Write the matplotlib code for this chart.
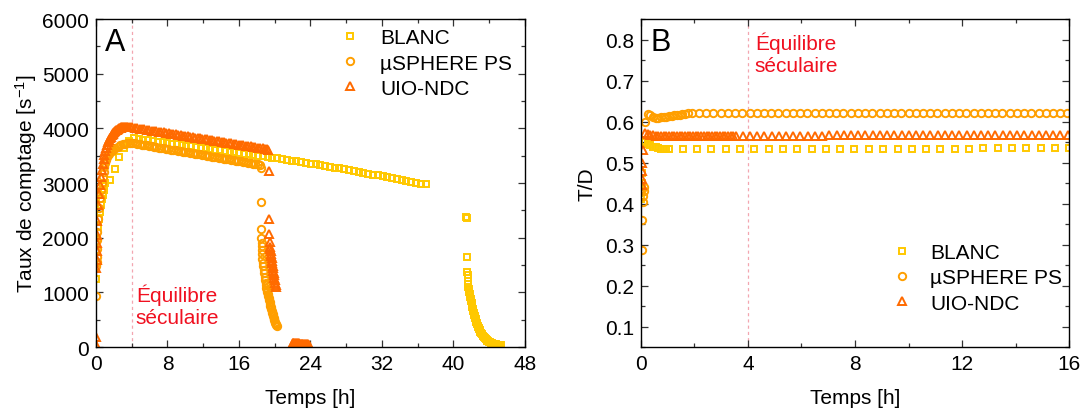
import matplotlib
matplotlib.use("Agg")
import matplotlib.pyplot as plt
from matplotlib.ticker import MultipleLocator

plt.rcParams['font.family'] = ['Liberation Sans', 'DejaVu Sans']
plt.rcParams['mathtext.fontset'] = 'custom'
plt.rcParams['mathtext.rm'] = 'Liberation Sans'
plt.rcParams['mathtext.it'] = 'Liberation Sans:italic'

# ---------------- data ----------------
labels = ["BLANC", "µSPHERE PS", "UIO-NDC"]
colors = ["#FFC800", "#FF9F00", "#FF6A00"]

# BLANC (squares) - panel A
blanc_t_early = [0.02, 0.05, 0.15, 0.25, 0.35, 0.45, 0.55, 0.65, 0.75, 0.85, 0.95, 1.05]
blanc_n_early = [1250, 1750, 2000, 2200, 2350, 2480, 2600, 2700, 2790, 2870, 2940, 3000]
blanc_t = [1.56, 2.1, 2.63, 3.17, 3.7, 4.24, 4.77, 5.31, 5.84, 6.38, 6.91, 7.45, 7.98, 8.52,
           9.05, 9.59, 10.12, 10.66, 11.19, 11.73, 12.26, 12.8, 13.33, 13.87, 14.4, 14.94,
           15.47, 16.01, 16.54, 17.08, 17.61, 18.15, 18.68, 19.22, 19.75, 20.29, 20.82,
           21.36, 21.89, 22.43, 22.96, 23.5, 24.03, 24.57, 25.1, 25.64, 26.17, 26.71, 27.24,
           27.78, 28.31, 28.85, 29.38, 29.92, 30.45, 30.99, 31.52, 32.06, 32.59, 33.13,
           33.66, 34.2, 34.73, 35.27, 35.8, 36.34, 36.87]
blanc_n = [3050, 3250, 3470, 3650, 3770, 3820, 3808, 3796, 3784, 3771, 3759, 3747, 3735, 3722,
           3710, 3698, 3686, 3673, 3661, 3649, 3637, 3624, 3612, 3600, 3588, 3575, 3563,
           3551, 3539, 3526, 3514, 3502, 3490, 3477, 3465, 3452, 3439, 3426, 3413, 3400,
           3386, 3372, 3358, 3344, 3330, 3315, 3300, 3285, 3270, 3254, 3238, 3222, 3206,
           3190, 3173, 3156, 3139, 3122, 3105, 3087, 3069, 3051, 3033, 3015, 2998, 2989, 2980]
blanc_t2 = [41.45, 41.47, 41.52, 41.55, 41.57, 41.59, 41.62, 41.67, 41.72, 41.77, 41.82, 41.87,
            41.92, 41.97, 42.02, 42.07, 42.12, 42.17, 42.22, 42.27, 42.32, 42.37, 42.42, 42.47,
            42.52, 42.57, 42.62, 42.67, 42.72, 42.77, 42.82, 42.87, 42.92, 42.97, 43.02, 43.1,
            43.2, 43.3, 43.4, 43.5, 43.6, 43.7, 43.8, 43.9, 44.0, 44.1, 44.2, 44.3, 44.4, 44.5,
            44.6, 44.7, 44.8, 44.9, 45.0, 45.1, 45.2, 45.3]
blanc_n2 = [2380, 2360, 1650, 1370, 1310, 1260, 1150, 1100, 1055, 1010, 965, 920, 880, 840, 800,
            765, 730, 695, 660, 625, 595, 565, 537, 510, 485, 460, 437, 415, 393, 373, 354, 335,
            318, 300, 284, 260, 235, 212, 190, 170, 150, 133, 118, 105, 95, 86, 78, 71, 65, 60,
            56, 52, 49, 46, 44, 42, 40, 38]

# µSPHERE PS (circles) - panel A
ps_t_early = [0.02, 0.04, 0.06, 0.08, 0.1, 0.12, 0.15, 0.25, 0.35, 0.45, 0.55, 0.65, 0.75,
              0.85, 0.95, 1.05, 1.15, 1.25, 1.35, 1.45, 1.55, 1.65, 1.75]
ps_n_early = [930, 1480, 1560, 1650, 1800, 1950, 2100, 2350, 2550, 2720, 2870, 3000, 3110,
              3210, 3290, 3360, 3420, 3470, 3510, 3540, 3565, 3580, 3595]
ps_t = [1.9, 2.17, 2.44, 2.71, 2.98, 3.25, 3.52, 3.79, 4.06, 4.33, 4.6, 4.87, 5.14, 5.41,
        5.68, 5.95, 6.22, 6.49, 6.76, 7.03, 7.3, 7.57, 7.84, 8.11, 8.38, 8.65, 8.92, 9.19,
        9.46, 9.73, 10.0, 10.27, 10.54, 10.81, 11.08, 11.35, 11.62, 11.89, 12.16, 12.43,
        12.7, 12.97, 13.24, 13.51, 13.78, 14.05, 14.32, 14.59, 14.86, 15.13, 15.4, 15.67,
        15.94, 16.21, 16.48, 16.75, 17.02, 17.29, 17.56, 17.83, 18.1, 18.37]
ps_n = [3610, 3640, 3665, 3690, 3710, 3722, 3730, 3733, 3732, 3725, 3718, 3710, 3703, 3695,
        3688, 3680, 3673, 3665, 3658, 3650, 3643, 3635, 3628, 3620, 3613, 3605, 3598, 3590,
        3583, 3575, 3568, 3560, 3553, 3545, 3538, 3530, 3523, 3515, 3508, 3500, 3493, 3485,
        3478, 3470, 3463, 3455, 3448, 3440, 3433, 3425, 3418, 3410, 3403, 3395, 3388, 3380,
        3373, 3365, 3358, 3350, 3343, 3335]
ps_t2 = [18.45, 18.47, 18.49, 18.51, 18.53, 18.55, 18.57, 18.59, 18.62, 18.67, 18.72, 18.77,
         18.82, 18.87, 18.92, 18.97, 19.02, 19.07, 19.12, 19.17, 19.22, 19.27, 19.32, 19.37,
         19.42, 19.47, 19.52, 19.57, 19.62, 19.67, 19.72, 19.77, 19.82, 19.87, 19.92, 19.97,
         20.02, 20.07, 20.12, 20.17, 20.22]
ps_n2 = [3270, 2660, 2157, 1987, 1900, 1850, 1780, 1710, 1620, 1545, 1475, 1410, 1350, 1290,
         1235, 1180, 1130, 1085, 1040, 1000, 965, 930, 895, 862, 830, 795, 760, 727, 695, 662,
         630, 598, 568, 540, 512, 487, 462, 440, 418, 398, 380]

# UIO-NDC (triangles) - panel A
uio_t_early = [0.01, 0.02, 0.04, 0.06, 0.08, 0.1, 0.12, 0.15, 0.25, 0.35, 0.45, 0.55, 0.65,
               0.75, 0.85, 0.95, 1.05, 1.15, 1.25, 1.35, 1.45, 1.55, 1.65, 1.75, 1.85, 1.95,
               2.05, 2.15, 2.25, 2.35, 2.45, 2.55, 2.65, 2.75, 2.85, 2.95, 3.05, 3.15, 3.25,
               3.35, 3.45, 3.55]
uio_n_early = [180, 30, 1450, 1600, 1750, 1900, 2050, 2300, 2600, 2800, 2970, 3110, 3240,
               3350, 3440, 3520, 3590, 3650, 3700, 3745, 3785, 3820, 3850, 3875, 3900, 3920,
               3938, 3954, 3968, 3980, 3990, 3999, 4006, 4012, 4017, 4021, 4024, 4026, 4027,
               4028, 4028, 4027]
uio_t = [3.8, 4.07, 4.34, 4.61, 4.88, 5.15, 5.42, 5.69, 5.96, 6.23, 6.5, 6.77, 7.04, 7.31,
         7.58, 7.85, 8.12, 8.39, 8.66, 8.93, 9.2, 9.47, 9.74, 10.01, 10.28, 10.55, 10.82,
         11.09, 11.36, 11.63, 11.9, 12.17, 12.44, 12.71, 12.98, 13.25, 13.52, 13.79, 14.06,
         14.33, 14.6, 14.87, 15.14, 15.41, 15.68, 15.95, 16.22, 16.49, 16.76, 17.03, 17.3,
         17.57, 17.84, 18.11, 18.38, 18.65, 18.92, 19.19, 19.3]
uio_n = [4025, 4018, 4011, 4004, 3997, 3989, 3982, 3975, 3968, 3961, 3954, 3947, 3940, 3933,
         3926, 3918, 3911, 3904, 3897, 3890, 3883, 3876, 3869, 3862, 3855, 3847, 3840, 3833,
         3826, 3819, 3812, 3805, 3798, 3791, 3784, 3776, 3769, 3762, 3755, 3748, 3741, 3734,
         3727, 3720, 3713, 3705, 3698, 3691, 3684, 3677, 3670, 3663, 3656, 3649, 3642, 3634,
         3627, 3620, 3612]
uio_t2 = [19.37, 19.39, 19.41, 19.43, 19.45, 19.49, 19.53, 19.57, 19.61, 19.65, 19.69, 19.73,
          19.77, 19.81, 19.85, 19.89, 19.93, 19.97, 20.01, 20.05, 20.09, 20.13]
uio_n2 = [3230, 2340, 2070, 1920, 1830, 1790, 1750, 1710, 1670, 1625, 1580, 1535, 1490, 1445,
          1400, 1355, 1310, 1265, 1220, 1180, 1140, 1100]
uio_t3 = [22.0, 22.1, 22.2, 22.3, 22.4, 22.5, 22.6, 22.7, 22.8, 22.9, 23.0, 23.1, 23.2, 23.3,
          23.4, 23.5, 23.6, 23.7, 23.8]
uio_n3 = [75, 74, 72, 71, 70, 68, 67, 66, 64, 63, 62, 60, 59, 58, 56, 55, 53, 50, 45]

# Panel B: T/D ratios
blanc_tB_early = [0.01, 0.02, 0.03, 0.04]
blanc_rB_early = [0.41, 0.43, 0.45, 0.475]
blanc_rB_dense = [0.553, 0.550, 0.546, 0.542, 0.539, 0.537, 0.535, 0.534, 0.533, 0.532, 0.532]
blanc_rB = [0.532, 0.532, 0.532, 0.532, 0.533, 0.533, 0.533, 0.533, 0.533, 0.533, 0.533,
            0.533, 0.534, 0.534, 0.534, 0.534, 0.534, 0.534, 0.534, 0.534, 0.534, 0.535,
            0.535, 0.535, 0.535, 0.535, 0.535, 0.535]

ps_tB_early = [0.02, 0.04, 0.06, 0.08, 0.1, 0.12]
ps_rB_early = [0.288, 0.359, 0.405, 0.418, 0.43, 0.44]
ps_rB_dense = [0.598, 0.618, 0.615, 0.611, 0.609, 0.609, 0.610, 0.611, 0.612, 0.613, 0.614,
               0.615, 0.616, 0.617, 0.618, 0.619, 0.620]
ps_rB = [0.621, 0.621, 0.621, 0.621, 0.621, 0.621, 0.621, 0.621, 0.621, 0.621, 0.621, 0.621,
         0.621, 0.621, 0.621, 0.621, 0.621, 0.621, 0.622, 0.622, 0.622, 0.622, 0.622, 0.622,
         0.622, 0.622, 0.622, 0.622, 0.622, 0.622, 0.622, 0.622, 0.622, 0.622, 0.622, 0.622,
         0.622, 0.622, 0.622, 0.622, 0.622, 0.622, 0.622, 0.622, 0.622, 0.622, 0.622, 0.622,
         0.622, 0.622, 0.622, 0.622, 0.622, 0.622]

uio_tB_early = [0.02, 0.03, 0.04, 0.05, 0.06]
uio_rB_early = [0.445, 0.46, 0.48, 0.50, 0.53]
uio_rB_dense = [0.572, 0.570, 0.568, 0.567, 0.566, 0.566, 0.566, 0.566, 0.565, 0.565, 0.565,
                0.565, 0.565, 0.565, 0.565, 0.565, 0.565, 0.565, 0.565, 0.565, 0.565, 0.565,
                0.565, 0.565, 0.565, 0.565, 0.565, 0.565, 0.565, 0.565, 0.565, 0.565, 0.565,
                0.565, 0.565]
uio_rB = [0.566, 0.566, 0.566, 0.566, 0.566, 0.566, 0.566, 0.566, 0.566, 0.566, 0.566, 0.566,
          0.567, 0.567, 0.567, 0.567, 0.567, 0.567, 0.567, 0.567, 0.567, 0.567, 0.567, 0.567,
          0.567, 0.567, 0.567, 0.567, 0.567, 0.567, 0.567, 0.567, 0.567, 0.567, 0.567, 0.567,
          0.567, 0.567, 0.567, 0.567, 0.567, 0.567, 0.567, 0.567, 0.567, 0.567, 0.567]

equil_t = 4
equil_text = "Équilibre\nséculaire"

# ---------------- figure ----------------
FS = 15
fig = plt.figure(figsize=(10.82, 4.10), dpi=100)
axA = fig.add_axes([0.0887, 0.151, 0.3965, 0.800])
axB = fig.add_axes([0.5924, 0.151, 0.3956, 0.800])

mk = dict(linestyle='none', mfc='none', mew=1.4)
sq = dict(marker='s', ms=4.2, **mk)
ci = dict(marker='o', ms=5.3, **mk)
tr = dict(marker='^', ms=6.2, **mk)

# Panel A
axA.axvline(equil_t, color='#F3A6B0', lw=0.9, ls=(0, (2.5, 2.5)), zorder=0)
hb, = axA.plot(blanc_t_early + blanc_t, blanc_n_early + blanc_n, color=colors[0], **sq)
axA.plot(blanc_t2, blanc_n2, color=colors[0], **sq)
hp, = axA.plot(ps_t_early + ps_t, ps_n_early + ps_n, color=colors[1], **ci)
axA.plot(ps_t2, ps_n2, color=colors[1], **ci)
hu, = axA.plot(uio_t_early + uio_t, uio_n_early + uio_n, color=colors[2], **tr)
axA.plot(uio_t2, uio_n2, color=colors[2], **tr)
axA.plot(uio_t3, uio_n3, color=colors[2], **tr)

axA.set_xlim(0, 48)
axA.set_ylim(0, 6000)
axA.xaxis.set_major_locator(MultipleLocator(8))
axA.xaxis.set_minor_locator(MultipleLocator(4))
axA.yaxis.set_major_locator(MultipleLocator(1000))
axA.yaxis.set_minor_locator(MultipleLocator(500))
axA.set_xlabel("Temps [h]", fontsize=FS, labelpad=11)
axA.set_ylabel("Taux de comptage [s$^{-1}$]", fontsize=FS, labelpad=2)
axA.text(0.02, 0.975, "A", transform=axA.transAxes, fontsize=22, va='top', ha='left')
axA.text(0.093, 0.195, equil_text, transform=axA.transAxes, fontsize=FS, color='#F01020',
         va='top', ha='left', linespacing=1.2)
axA.legend([hb, hp, hu], labels, loc='upper left', bbox_to_anchor=(0.568, 0.972),
           frameon=False, fontsize=FS, handlelength=1.0, handletextpad=0.94,
           borderpad=0, borderaxespad=0, labelspacing=0.3)

# Panel B
nb = len(blanc_rB)
npb = len(ps_rB)
nub = len(uio_rB)
axB.axvline(equil_t, color='#F3A6B0', lw=0.9, ls=(0, (2.5, 2.5)), zorder=0)
hb2, = axB.plot(blanc_tB_early + blanc_t_early[1:] + blanc_t[:nb],
                blanc_rB_early + blanc_rB_dense + blanc_rB, color=colors[0], **sq)
hp2, = axB.plot(ps_tB_early + ps_t_early[6:] + ps_t[:npb],
                ps_rB_early + ps_rB_dense + ps_rB, color=colors[1], **ci)
hu2, = axB.plot(uio_tB_early + uio_t_early[7:] + uio_t[:nub],
                uio_rB_early + uio_rB_dense + uio_rB, color=colors[2], **tr)

axB.set_xlim(0, 16)
axB.set_ylim(0.05, 0.85)
axB.xaxis.set_major_locator(MultipleLocator(4))
axB.xaxis.set_minor_locator(MultipleLocator(2))
axB.yaxis.set_major_locator(MultipleLocator(0.1))
axB.yaxis.set_minor_locator(MultipleLocator(0.05))
axB.set_xlabel("Temps [h]", fontsize=FS, labelpad=11)
axB.set_ylabel("T/D", fontsize=FS, labelpad=6)
axB.text(0.022, 0.975, "B", transform=axB.transAxes, fontsize=22, va='top', ha='left')
axB.text(0.266, 0.962, equil_text, transform=axB.transAxes, fontsize=FS, color='#F01020',
         va='top', ha='left', linespacing=1.2)
axB.legend([hb2, hp2, hu2], labels, loc='upper left', bbox_to_anchor=(0.5855, 0.317),
           frameon=False, fontsize=FS, handlelength=1.0, handletextpad=0.85,
           borderpad=0, borderaxespad=0, labelspacing=0.3)

for ax in (axA, axB):
    ax.tick_params(which='both', direction='in', top=True, right=True, labelsize=FS,
                   color='#333333', width=0.9, pad=5)
    ax.tick_params(which='major', length=5)
    ax.tick_params(which='minor', length=3)
    for s in ax.spines.values():
        s.set_linewidth(1.0)

fig.savefig("out.png", dpi=100)
